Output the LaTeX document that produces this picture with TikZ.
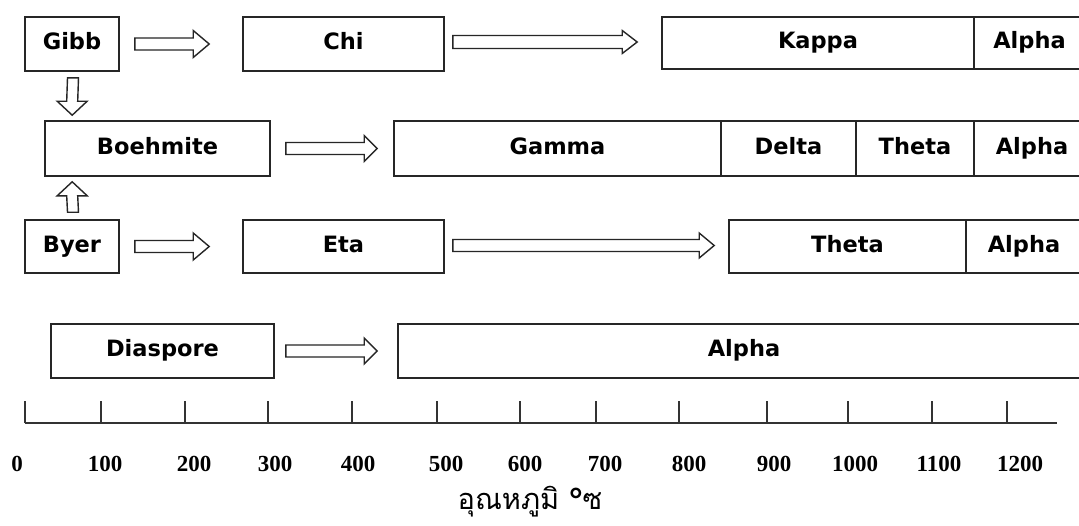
\documentclass[tikz,border=0pt]{standalone}
\usepackage{fontspec}
\usetikzlibrary{calc}
\newfontfamily\boxfont{DejaVu Sans}
\newfontfamily\numfont{Liberation Serif}
\newfontfamily\thaifont[Script=Thai]{Loma}
\tikzset{
  cell/.style={draw=black!85, line width=1.6pt, fill=white, inner sep=0pt,
    text height=16pt, text depth=5pt,
    font=\boxfont\bfseries\fontsize{22.5}{26}\selectfont},
  blockarrow/.style={draw=black!85, line width=1.4pt, fill=white, line join=miter},
  axisline/.style={draw=black!80, line width=2.2pt},
  ticklabel/.style={font=\numfont\bfseries\fontsize{23}{26}\selectfont, inner sep=0pt},
}
% horizontal block arrow: start, tip, shaft half, head half, head length
\newcommand\harrow[5]{%
  \draw[blockarrow] ($(#1)+(0,-#3)$) -- ($(#2)+(-#5,-#3)$) -- ($(#2)+(-#5,-#4)$) -- (#2)
    -- ($(#2)+(-#5,#4)$) -- ($(#2)+(-#5,#3)$) -- ($(#1)+(0,#3)$) -- cycle;}
% vertical block arrow: start, tip, shaft half, head half, signed offset tip->head base
\newcommand\varrow[5]{%
  \draw[blockarrow] ($(#1)+(-#3,0)$) -- ($(#2)+(-#3,#5)$) -- ($(#2)+(-#4,#5)$) -- (#2)
    -- ($(#2)+(#4,#5)$) -- ($(#2)+(#3,#5)$) -- ($(#1)+(#3,0)$) -- cycle;}
\begin{document}
\begin{tikzpicture}[x=1pt,y=-1pt]
\clip (0,0) rectangle (1079,525);
\fill[white] (0,0) rectangle (1079,525);

% row 1
\node[cell, minimum width=94pt, minimum height=54pt] (gibb) at (72,44) {Gibb};
\node[cell, minimum width=201pt, minimum height=54pt] (chi) at (343.5,44) {Chi};
\node[cell, minimum width=312pt, minimum height=52pt] (kappa) at (818,43) {Kappa};
\node[cell, minimum width=111pt, minimum height=52pt] (alphaA) at (1029.5,43) {Alpha};

% row 2
\node[cell, minimum width=225pt, minimum height=55pt] (boehmite) at (157.5,148.5) {Boehmite};
\node[cell, minimum width=327pt, minimum height=55pt] (gamma) at (557.5,148.5) {Gamma};
\node[cell, minimum width=135pt, minimum height=55pt] (delta) at (788.5,148.5) {Delta};
\node[cell, minimum width=118pt, minimum height=55pt] (thetaA) at (915,148.5) {Theta};
\node[cell, minimum width=116pt, minimum height=55pt] (alphaB) at (1032,148.5) {Alpha};

% row 3
\node[cell, minimum width=94pt, minimum height=53pt] (byer) at (72,246.5) {Byer};
\node[cell, minimum width=201pt, minimum height=53pt] (eta) at (343.5,246.5) {Eta};
\node[cell, minimum width=237pt, minimum height=53pt] (thetaB) at (847.5,246.5) {Theta};
\node[cell, minimum width=116pt, minimum height=53pt] (alphaC) at (1024,246.5) {Alpha};

% row 4
\node[cell, minimum width=223pt, minimum height=54pt] (diaspore) at (162.5,351) {Diaspore};
\node[cell, minimum width=692pt, minimum height=54pt] (alphaD) at (744,351) {Alpha};

% connector end points
\coordinate (a1s) at ($(gibb.east)+(15,0)$);
\coordinate (a1t) at ($(chi.west)+(-33,0)$);
\coordinate (a2s) at ($(chi.east)+(8,-2)$);
\coordinate (a2t) at ($(kappa.west)+(-24,-1)$);
\coordinate (a3s) at ($(boehmite.east)+(15,0)$);
\coordinate (a3t) at ($(gamma.west)+(-16,0)$);
\coordinate (a4s) at ($(byer.east)+(15,0)$);
\coordinate (a4t) at ($(eta.west)+(-33,0)$);
\coordinate (a5s) at ($(eta.east)+(8,-1)$);
\coordinate (a5t) at ($(thetaB.west)+(-14,-1)$);
\coordinate (a6s) at ($(diaspore.east)+(11,0)$);
\coordinate (a6t) at ($(alphaD.west)+(-20,0)$);
\coordinate (d1s) at ($(gibb.south)+(1,6)$);
\coordinate (d1t) at ($(boehmite.north west)+(28,-5)$);
\coordinate (u1s) at ($(byer.north)+(1,-7)$);
\coordinate (u1t) at ($(boehmite.south west)+(28,5)$);

\harrow{a1s}{a1t}{6}{13.5}{16}
\harrow{a2s}{a2t}{6.5}{11.5}{15}
\harrow{a3s}{a3t}{6}{13}{13}
\harrow{a4s}{a4t}{6}{13.5}{16}
\harrow{a5s}{a5t}{6}{12.5}{15}
\harrow{a6s}{a6t}{6}{13}{13}
\varrow{d1s}{d1t}{5.5}{15}{-14}
\varrow{u1s}{u1t}{5.5}{15}{14}

% temperature axis
\draw[axisline] (25,423) -- (1057,423);
\foreach \x in {25,101,185,268,352,437,520,596,679,767,848,932,1007}
  \draw[axisline] (\x,423) -- (\x,401);
\foreach \x/\t [count=\i] in {17/0,105/100,194/200,275/300,358/400,446/500,525/600,605/700,689/800,774/900,855/1000,939/1100,1020/1200}
  \node[ticklabel] (lab\i) at (\x,464) {\t};

\node[font=\thaifont\fontsize{29}{32}\selectfont, inner sep=0pt] (caption) at (530,502) {อุณหภูมิ °ซ};
\end{tikzpicture}
\end{document}
